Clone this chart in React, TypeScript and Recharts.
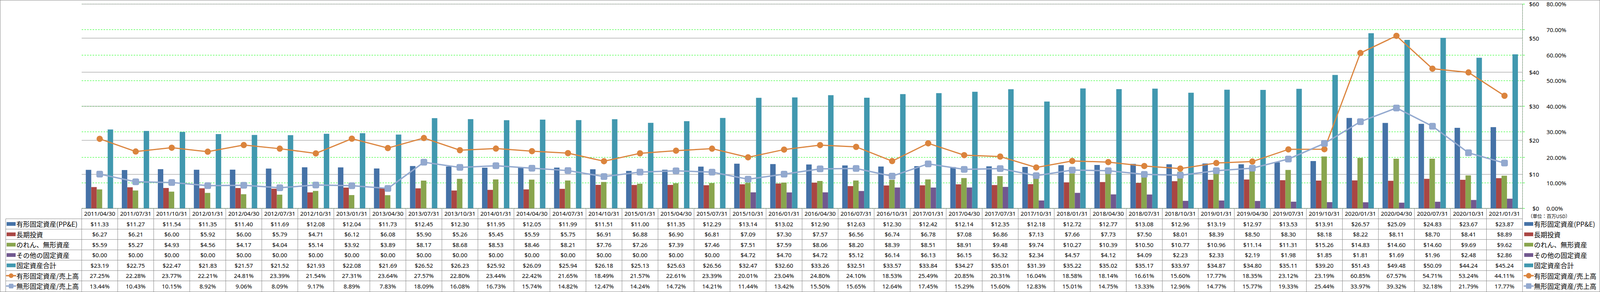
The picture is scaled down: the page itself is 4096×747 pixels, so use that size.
import React from 'react';
import { ComposedChart, Bar, Line, XAxis, YAxis, CartesianGrid } from 'recharts';

// 決算期
const dates = [
  '2011/04/30', '2011/07/31', '2011/10/31', '2012/01/31', '2012/04/30', '2012/07/31', '2012/10/31', '2013/01/31',
  '2013/04/30', '2013/07/31', '2013/10/31', '2014/01/31', '2014/04/30', '2014/07/31', '2014/10/31', '2015/01/31',
  '2015/04/30', '2015/07/31', '2015/10/31', '2016/01/31', '2016/04/30', '2016/07/31', '2016/10/31', '2017/01/31',
  '2017/04/30', '2017/07/31', '2017/10/31', '2018/01/31', '2018/04/30', '2018/07/31', '2018/10/31', '2019/01/31',
  '2019/04/30', '2019/07/31', '2019/10/31', '2020/01/31', '2020/04/30', '2020/07/31', '2020/10/31', '2021/01/31',
];

// 百万USD
const ppe = [
  11.33, 11.27, 11.54, 11.35, 11.40, 11.69, 12.08, 12.04, 11.73, 12.45, 12.30, 11.95, 12.05, 11.99, 11.51, 11.00,
  11.35, 12.29, 13.14, 13.02, 12.90, 12.63, 12.30, 12.42, 12.14, 12.35, 12.18, 12.72, 12.77, 13.08, 12.96, 13.19,
  12.97, 13.53, 13.91, 26.57, 25.09, 24.83, 23.67, 23.87,
];
const longTermInv = [
  6.27, 6.21, 6.00, 5.92, 6.00, 5.79, 4.71, 6.12, 6.08, 5.90, 5.26, 5.45, 5.59, 5.75, 6.91, 6.88,
  6.90, 6.81, 7.09, 7.30, 7.57, 6.56, 6.74, 6.78, 7.08, 6.86, 7.13, 7.66, 7.73, 7.50, 8.01, 8.39,
  8.50, 8.30, 8.18, 8.22, 8.11, 8.70, 8.41, 8.89,
];
const goodwill = [
  5.59, 5.27, 4.93, 4.56, 4.17, 4.04, 5.14, 3.92, 3.89, 8.17, 8.68, 8.53, 8.46, 8.21, 7.76, 7.26,
  7.39, 7.46, 7.51, 7.59, 8.06, 8.20, 8.39, 8.51, 8.91, 9.48, 9.74, 10.27, 10.39, 10.50, 10.77, 10.96,
  11.14, 11.31, 15.26, 14.83, 14.60, 14.60, 9.69, 9.62,
];
const otherFixed = [
  0, 0, 0, 0, 0, 0, 0, 0, 0, 0, 0, 0, 0, 0, 0, 0,
  0, 0, 4.72, 4.70, 4.72, 5.12, 6.14, 6.13, 6.15, 6.32, 2.34, 4.57, 4.12, 4.09, 2.23, 2.33,
  2.19, 1.98, 1.85, 1.81, 1.69, 1.96, 2.48, 2.86,
];
const totalFixed = [
  23.19, 22.75, 22.47, 21.83, 21.57, 21.52, 21.93, 22.08, 21.69, 26.52, 26.23, 25.92, 26.09, 25.94, 26.18, 25.13,
  25.63, 26.56, 32.47, 32.60, 33.26, 32.51, 33.57, 33.84, 34.27, 35.01, 31.39, 35.22, 35.02, 35.17, 33.97, 34.87,
  34.80, 35.11, 39.20, 51.43, 49.48, 50.09, 44.24, 45.24,
];
// %
const ppeRatio = [
  27.25, 22.28, 23.77, 22.21, 24.81, 23.39, 21.54, 27.31, 23.64, 27.57, 22.80, 23.44, 22.42, 21.65, 18.49, 21.57,
  22.61, 23.39, 20.01, 23.04, 24.80, 24.10, 18.53, 25.49, 20.85, 20.31, 16.04, 18.58, 18.14, 16.61, 15.60, 17.77,
  18.35, 23.12, 23.19, 60.85, 67.57, 54.71, 53.24, 44.11,
];
const intangibleRatio = [
  13.44, 10.43, 10.15, 8.92, 9.06, 8.09, 9.17, 8.89, 7.83, 18.09, 16.08, 16.73, 15.74, 14.82, 12.47, 14.24,
  14.72, 14.21, 11.44, 13.42, 15.50, 15.65, 12.64, 17.45, 15.29, 15.60, 12.83, 15.01, 14.75, 13.33, 12.96, 14.77,
  15.77, 19.33, 25.44, 33.97, 39.32, 32.18, 21.79, 17.77,
];

const usdTicks = [0, 10, 20, 30, 40, 50, 60];
const pctTicks = [0, 10, 20, 30, 40, 50, 60, 70, 80];

const data = dates.map((date, i) => ({
  date,
  ppe: ppe[i],
  longTermInv: longTermInv[i],
  goodwill: goodwill[i],
  otherFixed: otherFixed[i],
  totalFixed: totalFixed[i],
  ppeRatio: ppeRatio[i],
  intangibleRatio: intangibleRatio[i],
}));

const usd = (v: number) => `$${v.toFixed(2)}`;
const pct = (v: number) => `${v.toFixed(2)}%`;

const series = [
  { key: 'ppe', name: '有形固定資産(PP&E)', color: '#4572A7', kind: 'bar', fmt: usd },
  { key: 'longTermInv', name: '長期投資', color: '#AA4643', kind: 'bar', fmt: usd },
  { key: 'goodwill', name: 'のれん、無形資産', color: '#89A54E', kind: 'bar', fmt: usd },
  { key: 'otherFixed', name: 'その他の固定資産', color: '#71588F', kind: 'bar', fmt: usd },
  { key: 'totalFixed', name: '固定資産合計', color: '#4198AF', kind: 'bar', fmt: usd },
  { key: 'ppeRatio', name: '有形固定資産/売上高', color: '#DB843D', kind: 'circle', fmt: pct },
  { key: 'intangibleRatio', name: '無形固定資産/売上高', color: '#93A9CF', kind: 'square', fmt: pct },
];

// layout, measured on the 5876px original and scaled
const S = 0.697;
const W = 4096;
const H = 747;
const PLOT_L = 300 * S;
const PLOT_R = 5592 * S;
const PLOT_T = 15 * S;
const PLOT_B = 765 * S;
const ROW_H = 38 * S;
const USD_W = 65 * S;
const PCT_W = W - PLOT_R - USD_W;
const COL_W = (PLOT_R - PLOT_L) / dates.length;

const GRID = '#868686';
const GREEN = '#00FF00';
const NUM_FONT = '"Noto Sans", "DejaVu Sans", sans-serif';
const JP_FONT = '"Noto Sans CJK JP", "Noto Sans", sans-serif';

const rowMid = (r: number) => PLOT_B + ROW_H * (r + 1.5);

const TableTick = (props: any) => {
  const { x, payload } = props;
  const i = dates.indexOf(payload.value);
  const row: any = data[i];
  const left = x - COL_W / 2;
  return (
    <g>
      <line x1={left} x2={left} y1={PLOT_B} y2={H} stroke={GRID} strokeWidth={1} />
      <text x={x} y={PLOT_B + ROW_H / 2} textAnchor="middle" dominantBaseline="central"
        fontFamily={NUM_FONT} fontSize={15} fill="#000">{payload.value}</text>
      {series.map((s, r) => (
        <text key={s.key} x={x} y={rowMid(r)} textAnchor="middle" dominantBaseline="central"
          fontFamily={NUM_FONT} fontSize={15} fill="#000">{s.fmt(row[s.key])}</text>
      ))}
    </g>
  );
};

const UsdTick = (props: any) => (
  <text x={5653 * S} y={props.y} textAnchor="end" dominantBaseline="central"
    fontFamily={NUM_FONT} fontSize={15} fill="#000">{`$${props.payload.value}`}</text>
);

const PctTick = (props: any) => (
  <text x={5680 * S} y={props.y} textAnchor="start" dominantBaseline="central"
    fontFamily={NUM_FONT} fontSize={15} fill="#000">{pct(props.payload.value)}</text>
);

const CircleDot = (p: any) => (
  <circle key={`c-${p.index}`} cx={p.cx} cy={p.cy} r={8} fill="#DB843D" />
);

const SquareDot = (p: any) => (
  <rect key={`s-${p.index}`} x={p.cx - 8} y={p.cy - 8} width={16} height={16} rx={3}
    fill="#93A9CF" stroke="#8AA2CA" strokeWidth={1} />
);

const LegendKey = ({ s, x0, x1, cy, r }: any) => {
  if (s.kind === 'bar') {
    return <rect x={x0} y={cy - 4.75} width={x1 - x0} height={9.5} fill={s.color} />;
  }
  const cx = (x0 + x1) / 2;
  return (
    <g>
      <line x1={x0} x2={x1} y1={cy} y2={cy} stroke={s.color} strokeWidth={3.5} strokeLinecap="round" />
      {s.kind === 'circle'
        ? <circle cx={cx} cy={cy} r={r} fill={s.color} />
        : <rect x={cx - r} y={cy - r} width={r * 2} height={r * 2} rx={2} fill={s.color} />}
    </g>
  );
};

const Overlay = () => (
  <svg width={W} height={H} style={{ position: 'absolute', left: 0, top: 0, pointerEvents: 'none' }}>
    <rect x={0.5} y={0.5} width={W - 1} height={H - 1} fill="none" stroke={GRID} />
    {/* table rules */}
    {series.map((s, r) => (
      <line key={`h-${s.key}`} x1={21 * S} x2={PLOT_R} y1={PLOT_B + ROW_H * (r + 1)} y2={PLOT_B + ROW_H * (r + 1)}
        stroke={GRID} />
    ))}
    <line x1={21 * S} x2={21 * S} y1={PLOT_B + ROW_H} y2={H} stroke={GRID} />
    <line x1={PLOT_R} x2={PLOT_R} y1={PLOT_T} y2={H} stroke={GRID} />
    {/* row headers */}
    {series.map((s, r) => (
      <g key={`lh-${s.key}`}>
        <LegendKey s={s} x0={17} x1={40} cy={rowMid(r)} r={6} />
        <text x={42} y={rowMid(r)} dominantBaseline="central" fontFamily={JP_FONT} fontSize={17} fill="#000">
          {s.name}
        </text>
      </g>
    ))}
    {/* right legend */}
    <text x={5612 * S} y={793 * S} dominantBaseline="central" fontFamily={JP_FONT} fontSize={12} fill="#000">
      （単位：百万USD）
    </text>
    {series.map((s, r) => (
      <g key={`rl-${s.key}`}>
        <LegendKey s={s} x0={3902} x1={3925} cy={rowMid(r)} r={7} />
        <text x={3927} y={rowMid(r)} dominantBaseline="central" fontFamily={JP_FONT} fontSize={17} fill="#000">
          {s.name}
        </text>
      </g>
    ))}
  </svg>
);

export default function App() {
  return (
    <div style={{ position: 'relative', width: W, height: H, background: '#fff' }}>
      <style>{'body{margin:0;}'}</style>
      <ComposedChart
        width={W}
        height={H}
        data={data}
        margin={{ top: PLOT_T, right: 0, left: PLOT_L, bottom: 0 }}
        barCategoryGap="11.4%"
        barGap={0}
      >
        <CartesianGrid yAxisId="pct" vertical={false} stroke={GREEN} strokeDasharray="4 3" />
        <CartesianGrid yAxisId="usd" vertical={false} stroke={GRID} />
        <XAxis
          dataKey="date"
          height={H - PLOT_B}
          interval={0}
          tickLine={false}
          axisLine={{ stroke: GRID }}
          tick={<TableTick />}
        />
        <YAxis
          yAxisId="usd"
          orientation="right"
          width={USD_W}
          domain={[0, 60]}
          ticks={usdTicks}
          axisLine={false}
          tickLine={false}
          tick={<UsdTick />}
        />
        <YAxis
          yAxisId="pct"
          orientation="right"
          width={PCT_W}
          domain={[0, 80]}
          ticks={pctTicks}
          axisLine={{ stroke: GREEN, strokeDasharray: '4 3' }}
          tickLine={{ stroke: GREEN }}
          tickSize={6}
          tick={<PctTick />}
        />
        {series.filter((s) => s.kind === 'bar').map((s) => (
          <Bar key={s.key} yAxisId="usd" dataKey={s.key} name={s.name} fill={s.color} isAnimationActive={false} />
        ))}
        <Line yAxisId="pct" dataKey="ppeRatio" name="有形固定資産/売上高" stroke="#DB843D" strokeWidth={3}
          dot={CircleDot} activeDot={false} isAnimationActive={false} />
        <Line yAxisId="pct" dataKey="intangibleRatio" name="無形固定資産/売上高" stroke="#93A9CF" strokeWidth={3.5}
          dot={SquareDot} activeDot={false} isAnimationActive={false} />
      </ComposedChart>
      <Overlay />
    </div>
  );
}
